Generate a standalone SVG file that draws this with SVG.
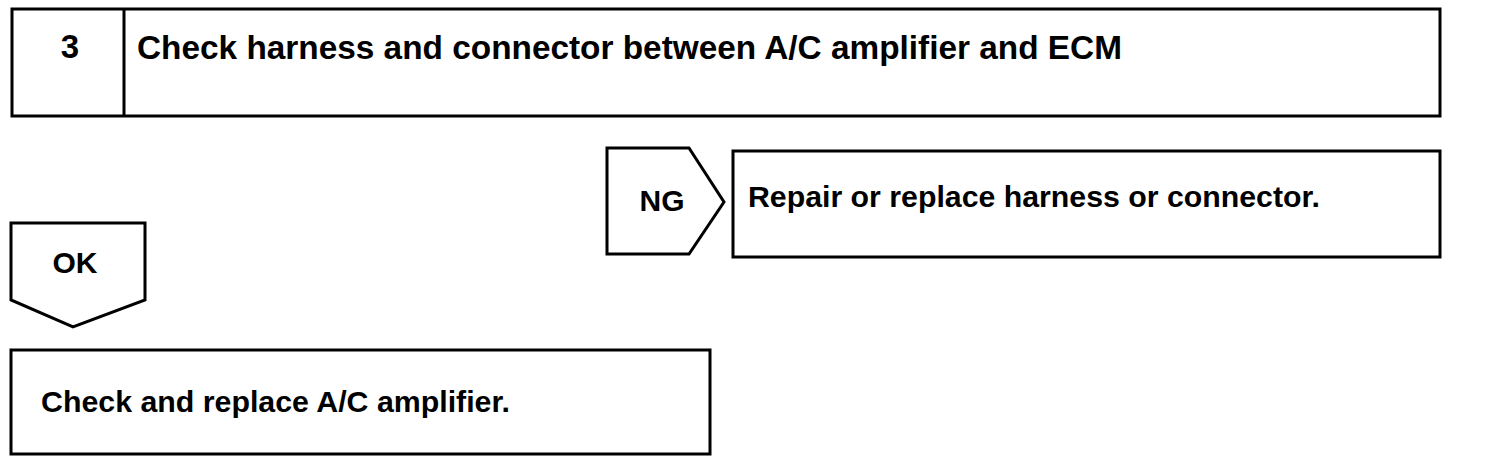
<svg xmlns="http://www.w3.org/2000/svg" width="1504" height="464" viewBox="0 0 1504 464">
<style>
.box{fill:#fff;stroke:#000;stroke-width:3;stroke-linejoin:miter}
.t{font-family:"Liberation Sans",Arial,sans-serif;font-weight:bold;fill:#000}
.big{font-size:33px}
.med{font-size:30px}
</style>
<rect width="1504" height="464" fill="#fff"/>
<g id="step3">
<rect class="box" x="12" y="9" width="1428" height="107"/>
<line class="box" x1="124" y1="9" x2="124" y2="116"/>
<text class="t big" x="70" y="58" text-anchor="middle">3</text>
<text class="t big" x="137" y="59" textLength="985" lengthAdjust="spacingAndGlyphs">Check harness and connector between A/C amplifier and ECM</text>
</g>
<g id="ng">
<polygon class="box" points="607,148 689,148 724,202 689,254 607,254"/>
<text class="t med" x="662" y="211" text-anchor="middle">NG</text>
</g>
<g id="repair">
<rect class="box" x="733" y="151" width="707" height="106"/>
<text class="t med" x="748" y="207" textLength="572" lengthAdjust="spacingAndGlyphs">Repair or replace harness or connector.</text>
</g>
<g id="ok">
<polygon class="box" points="11,223 145,223 145,300 73,327 11,300"/>
<text class="t med" x="75" y="273" text-anchor="middle">OK</text>
</g>
<g id="replace">
<rect class="box" x="11" y="350" width="699" height="104"/>
<text class="t med" x="41" y="412" textLength="469" lengthAdjust="spacingAndGlyphs">Check and replace A/C amplifier.</text>
</g>
<g id="connectors"></g>
</svg>
